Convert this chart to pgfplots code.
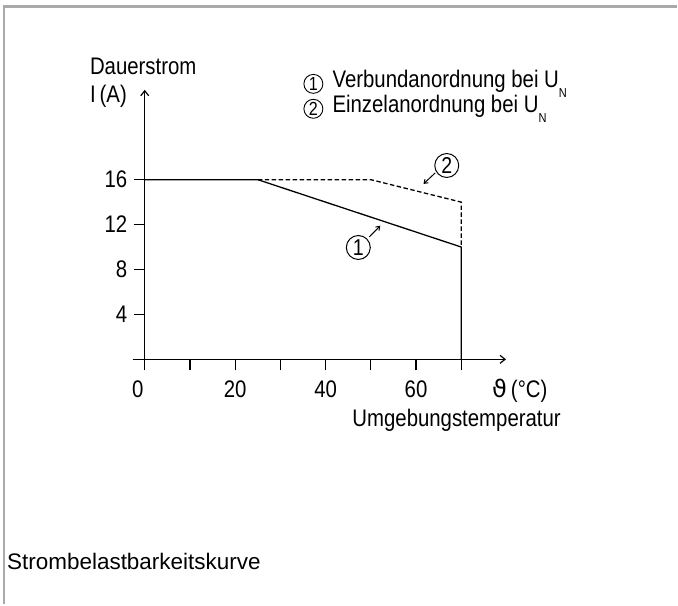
\documentclass[border=0pt]{standalone}
\usepackage{fontspec}
\setmainfont{Liberation Sans}
\newfontfamily\dejavu{DejaVu Sans}
\newfontfamily\cond{Liberation Sans}[FakeStretch=0.85]
\usepackage{pgfplots}
\pgfplotsset{compat=1.18}
\usetikzlibrary{arrows.meta}
\definecolor{framegray}{RGB}{170,170,170}
\newcommand{\lab}{\cond\fontsize{24}{28}\selectfont}
\newcommand{\subN}{\raisebox{-10pt}{\cond\fontsize{13}{13}\selectfont N}}
\tikzset{
  bigcirc/.style={circle, draw, line width=1pt, minimum size=24pt, inner sep=0pt, font=\cond\fontsize{23}{23}\selectfont},
  smallcirc/.style={circle, draw, line width=0.9pt, minimum size=19pt, inner sep=0pt, font=\cond\fontsize{19}{19}\selectfont},
}
\begin{document}
\begin{tikzpicture}[x=1pt,y=1pt]
\fill[white] (0,0) rectangle (678,605);
\draw[framegray, line width=2.6pt, line join=miter] (4,0) -- (4,598.5) -- (678,598.5);
\node[anchor=base west, inner sep=0pt, font=\fontsize{22.5}{26}\selectfont] at (7,34) {Strombelastbarkeitskurve};
\begin{axis}[
  at={(133pt,234.3pt)}, anchor=south west,
  x=4.53pt, y=11.25pt,
  xmin=-2.65, xmax=79.9, ymin=-0.95, ymax=24,
  axis lines=middle,
  axis line style={line width=1.2pt, -{Straight Barb[length=5pt,width=8pt,line width=1.2pt]}},
  hide obscured x ticks=false, hide obscured y ticks=false,
  tick align=outside, major tick length=11pt,
  tick style={line width=1.2pt, black},
  xtick={0,10,...,70}, xticklabels={\hspace*{-14pt}0,,20,,40,,60,},
  ytick={4,8,12,16}, yticklabels={4,8,12,16},
  xticklabel style={font=\lab, anchor=base, yshift=-27pt},
  yticklabel style={font=\lab, anchor=east, xshift=-3pt},
  /pgf/number format/assume math mode=true,
  clip=false,
]
\addplot[line width=1.3pt, black] coordinates {(0,16) (25,16) (70,10) (70,0)};
\addplot[line width=1.3pt, black, dash pattern=on 4.5pt off 2.5pt] coordinates {(25,16) (50,16) (70,14) (70,10)};
% annotations
\node[bigcirc] at (axis cs:47.24,9.96) {1};
\draw[line width=1pt, -{Straight Barb[length=3.5pt,width=5pt]}] (axis cs:49.67,10.9) -- (axis cs:52.1,11.9);
\node[bigcirc] at (axis cs:66.8,17.26) {2};
\draw[line width=1pt, -{Straight Barb[length=3.5pt,width=5pt]}] (axis cs:64.24,16.6) -- (axis cs:61.66,15.62);
% labels
\node[anchor=base west, inner sep=0pt, font=\lab] at (axis cs:-12.14,25.33) {Dauerstrom};
\node[anchor=base west, inner sep=0pt, font=\lab] at (axis cs:-12.14,22.9) {I\,(A)};
\node[anchor=base west, inner sep=0pt, font=\lab] at (axis cs:76.8,-3.38) {{\dejavu ϑ}\,(°C)};
\node[anchor=base east, inner sep=0pt, font=\lab] at (axis cs:92.05,-5.96) {Umgebungstemperatur};
% legend
\node[smallcirc] at (axis cs:37.3,24.53) {1};
\node[anchor=base west, inner sep=0pt, font=\lab] at (axis cs:41.5,24.18) {Verbundanordnung bei U\subN};
\node[smallcirc] at (axis cs:37.3,22.31) {2};
\node[anchor=base west, inner sep=0pt, font=\lab] at (axis cs:41.5,21.96) {Einzelanordnung bei U\subN};
\end{axis}
\end{tikzpicture}
\end{document}
